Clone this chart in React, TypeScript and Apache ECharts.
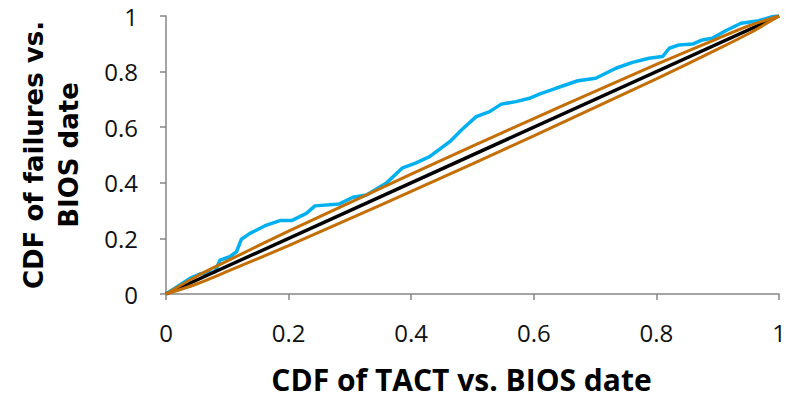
import React, { useEffect, useRef } from "react";
import * as echarts from "echarts";

const xTicks = [0, 0.2, 0.4, 0.6, 0.8, 1];

const failX = [0, 0.039, 0.055, 0.08, 0.088, 0.104, 0.115, 0.123, 0.137, 0.164, 0.186, 0.205, 0.229, 0.243, 0.283, 0.305, 0.327, 0.359, 0.386, 0.408, 0.43, 0.463, 0.482, 0.506, 0.528, 0.547, 0.571, 0.593, 0.609, 0.636, 0.672, 0.701, 0.734, 0.761, 0.788, 0.81, 0.821, 0.837, 0.859, 0.875, 0.891, 0.913, 0.938, 0.967, 0.989, 1];
const failY = [0, 0.056, 0.072, 0.08, 0.122, 0.134, 0.152, 0.197, 0.218, 0.248, 0.264, 0.264, 0.29, 0.317, 0.324, 0.348, 0.356, 0.398, 0.454, 0.472, 0.494, 0.548, 0.59, 0.638, 0.656, 0.683, 0.692, 0.704, 0.719, 0.74, 0.767, 0.776, 0.812, 0.833, 0.848, 0.854, 0.884, 0.896, 0.899, 0.914, 0.92, 0.947, 0.974, 0.983, 0.998, 1];

const boundX = [0, 0.05, 0.1, 0.2, 0.3, 0.4, 0.5, 0.6, 0.7, 0.8, 0.9, 0.95, 1];
const upperY = [0, 0.064, 0.119, 0.226, 0.329, 0.431, 0.532, 0.631, 0.729, 0.826, 0.919, 0.964, 1];
const lowerY = [0, 0.036, 0.081, 0.174, 0.271, 0.369, 0.468, 0.569, 0.671, 0.774, 0.881, 0.936, 1];

const diagX = [0, 1];
const diagY = [0, 1];

const zip = (xs: number[], ys: number[]) => xs.map((x, i) => [x, ys[i]]);

export default function App() {
  const ref = useRef<HTMLDivElement>(null);
  useEffect(() => {
    if (!ref.current) return;
    const chart = echarts.init(ref.current, null, { renderer: "svg" });
    const font = "'Open Sans', 'Noto Sans', sans-serif";
    const axisLine = { show: true, lineStyle: { color: "#868686", width: 1.5 } };
    const tick = { show: true, length: 6, lineStyle: { color: "#868686", width: 1.5 } };
    chart.setOption({
      animation: false,
      grid: { left: 166, right: 31, top: 16, bottom: 106 },
      xAxis: {
        type: "value",
        min: xTicks[0],
        max: xTicks[xTicks.length - 1],
        interval: 0.2,
        axisLine,
        axisTick: tick,
        splitLine: { show: false },
        axisLabel: { margin: 26, fontSize: 24, color: "#111", fontFamily: font },
        name: "CDF of TACT vs. BIOS date",
        nameLocation: "middle",
        nameGap: 70,
        nameTextStyle: {
          fontSize: 30,
          fontWeight: "bold",
          color: "#000",
          fontFamily: font,
          padding: [0, 22, 0, 0],
        },
      },
      yAxis: {
        type: "value",
        min: 0,
        max: 1,
        interval: 0.2,
        axisLine,
        axisTick: tick,
        splitLine: { show: false },
        axisLabel: { margin: 28, fontSize: 24, color: "#111", fontFamily: font },
        name: "CDF of failures vs.\nBIOS date",
        nameLocation: "middle",
        nameRotate: 90,
        nameGap: 80,
        nameTextStyle: {
          fontSize: 26,
          fontWeight: "bold",
          color: "#000",
          fontFamily: "'DejaVu Sans', sans-serif",
          lineHeight: 35,
        },
      },
      series: [
        {
          type: "line",
          data: zip(failX, failY),
          symbol: "none",
          lineStyle: { color: "#00B0F0", width: 3.5 },
        },
        {
          type: "line",
          data: zip(diagX, diagY),
          symbol: "none",
          lineStyle: { color: "#000000", width: 3.5 },
        },
        {
          type: "line",
          data: zip(boundX, upperY),
          symbol: "none",
          smooth: 0.3,
          lineStyle: { color: "#C46F05", width: 3 },
        },
        {
          type: "line",
          data: zip(boundX, lowerY),
          symbol: "none",
          smooth: 0.3,
          lineStyle: { color: "#C46F05", width: 3 },
        },
      ],
    });
    return () => chart.dispose();
  }, []);
  return <div ref={ref} style={{ width: 810, height: 400, margin: -8 }} />;
}
